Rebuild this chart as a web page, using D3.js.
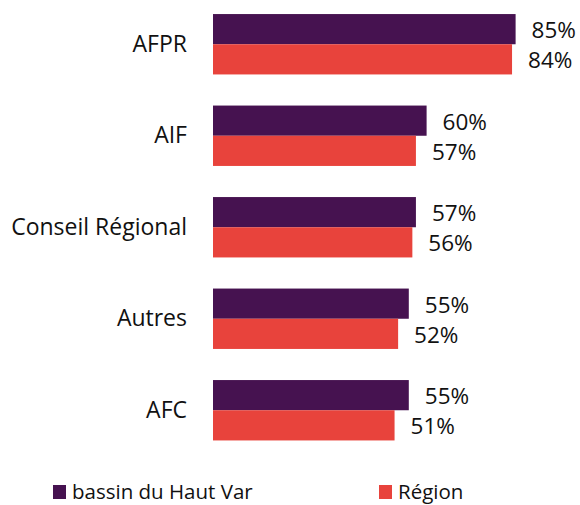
<!DOCTYPE html>
<html>
<head>
<meta charset="utf-8">
<script src="https://cdn.jsdelivr.net/npm/d3@7"></script>
<style>
  body { margin: 0; background: #fff; }
  text { font-family: "Open Sans", "Noto Sans", sans-serif; fill: #111; }
</style>
</head>
<body>
<script>
var categories = ["AFPR", "AIF", "Conseil Régional", "Autres", "AFC"];
var seriesNames = ["bassin du Haut Var", "Région"];
var bassin = [85, 60, 57, 55, 55];
var region = [84, 57, 56, 52, 51];
var colors = ["#461250", "#e8433c"];

var width = 580, height = 505;

var svg = d3.select("body").append("svg")
  .attr("width", width)
  .attr("height", height);

var x = d3.scaleLinear().domain([0, 100]).range([213, 569]);

var y = d3.scaleBand()
  .domain(categories)
  .range([-1.5, 456])
  .paddingInner(0.34)
  .paddingOuter(0.17);

var sub = d3.scaleBand()
  .domain([0, 1])
  .range([0, y.bandwidth()]);

var rows = categories.map(function(c, i) {
  return { cat: c, vals: [bassin[i], region[i]] };
});

var g = svg.selectAll("g.cat")
  .data(rows)
  .enter()
  .append("g")
  .attr("class", "cat")
  .attr("transform", function(d) { return "translate(0," + y(d.cat) + ")"; });

g.selectAll("rect")
  .data(function(d) { return d.vals; })
  .enter()
  .append("rect")
  .attr("x", x(0))
  .attr("y", function(d, i) { return sub(i); })
  .attr("width", function(d) { return x(d) - x(0); })
  .attr("height", sub.bandwidth())
  .attr("fill", function(d, i) { return colors[i]; });

g.selectAll("text.val")
  .data(function(d) { return d.vals; })
  .enter()
  .append("text")
  .attr("class", "val")
  .attr("x", function(d) { return x(d) + 16; })
  .attr("y", function(d, i) { return sub(i) + sub.bandwidth() / 2 + 1; })
  .attr("dy", "0.35em")
  .style("font-size", "22.5px")
  .text(function(d) { return d + "%"; });

// category labels
svg.append("g")
  .attr("transform", "translate(" + (x(0) - 26) + ",0)")
  .call(d3.axisLeft(y).tickSize(0).tickPadding(0))
  .call(function(a) { a.select(".domain").remove(); })
  .selectAll("text")
  .style("font-size", "23px")
  .style("font-family", "'Open Sans', 'Noto Sans', sans-serif")
  .attr("fill", "#111");

// legend
var legendX = [53, 379];
var lg = svg.selectAll("g.legend")
  .data(seriesNames)
  .enter()
  .append("g")
  .attr("class", "legend")
  .attr("transform", function(d, i) { return "translate(" + legendX[i] + ",485)"; });

lg.append("rect")
  .attr("width", 13)
  .attr("height", 14)
  .attr("fill", function(d, i) { return colors[i]; });

lg.append("text")
  .attr("x", 19)
  .attr("y", 14)
  .style("font-size", "20.5px")
  .text(function(d) { return d; });
</script>
</body>
</html>
